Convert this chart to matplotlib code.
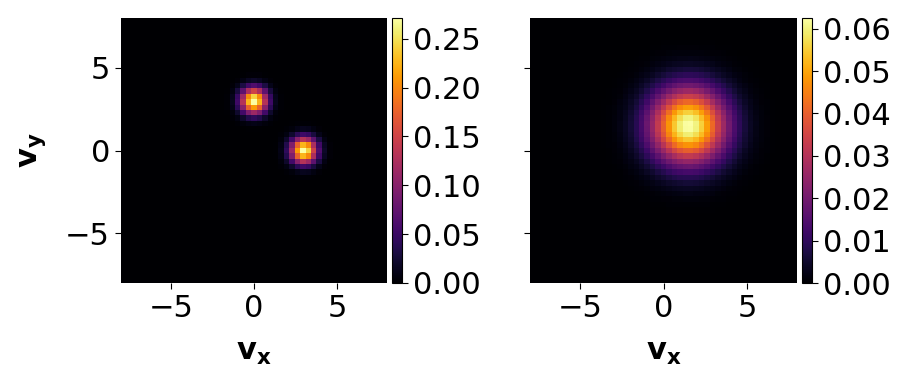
import numpy as np
import matplotlib
matplotlib.use("Agg")
import matplotlib.pyplot as plt

# Data parameters
grid_n = 49
v_range = (-8.0, 8.0)
left_centers = [(0.0, 3.0), (3.0, 0.0)]
left_weights = [0.5, 0.5]
left_sigma = 0.54
right_center = (1.5, 1.5)
right_sigma = 1.59
xticks = [-5, 0, 5]
yticks = [-5, 0, 5]
cb1_ticks = [0.00, 0.05, 0.10, 0.15, 0.20, 0.25]
cb2_ticks = [0.00, 0.01, 0.02, 0.03, 0.04, 0.05, 0.06]

dx = (v_range[1] - v_range[0]) / grid_n
c = v_range[0] + (np.arange(grid_n) + 0.5) * dx
VX, VY = np.meshgrid(c, c)

def gauss(cx, cy, s):
    return np.exp(-((VX - cx) ** 2 + (VY - cy) ** 2) / (2 * s ** 2)) / (2 * np.pi * s ** 2)

Z1 = sum(w * gauss(cx, cy, left_sigma) for (cx, cy), w in zip(left_centers, left_weights))
Z2 = gauss(right_center[0], right_center[1], right_sigma)

fs = 22
plt.rcParams['font.size'] = fs
fig = plt.figure(figsize=(9.16, 3.87), dpi=100)
W, H = 916, 387

def ax_rect(x0, x1, y0, y1):
    return [x0 / W, 1 - y1 / H, (x1 - x0) / W, (y1 - y0) / H]

ax1 = fig.add_axes(ax_rect(121, 387, 18, 283))
cax1 = fig.add_axes(ax_rect(392, 402, 18, 283))
ax2 = fig.add_axes(ax_rect(530, 797, 18, 283))
cax2 = fig.add_axes(ax_rect(802, 812, 18, 283))

ext = [v_range[0], v_range[1], v_range[0], v_range[1]]
im1 = ax1.imshow(Z1, origin='lower', extent=ext, cmap='inferno', interpolation='nearest', aspect='auto')
im2 = ax2.imshow(Z2, origin='lower', extent=ext, cmap='inferno', interpolation='nearest', aspect='auto')

for ax in (ax1, ax2):
    ax.set_xticks(xticks)
    ax.set_yticks(yticks)
    ax.tick_params(labelsize=fs, length=4.5)
    ax.set_xlabel(r'$\mathbf{v_x}$', fontsize=fs, labelpad=11)
    for sp in ax.spines.values():
        sp.set_visible(False)
ax1.set_ylabel(r'$\mathbf{v_y}$', fontsize=fs, labelpad=12)
ax2.set_yticklabels([])

cb1 = fig.colorbar(im1, cax=cax1, ticks=cb1_ticks)
cb2 = fig.colorbar(im2, cax=cax2, ticks=cb2_ticks)
cb1.ax.set_yticklabels([f'{t:.2f}' for t in cb1_ticks])
cb2.ax.set_yticklabels([f'{t:.2f}' for t in cb2_ticks])
for cb in (cb1, cb2):
    cb.ax.tick_params(labelsize=fs, length=4.5)

fig.savefig('out.png', dpi=100)
